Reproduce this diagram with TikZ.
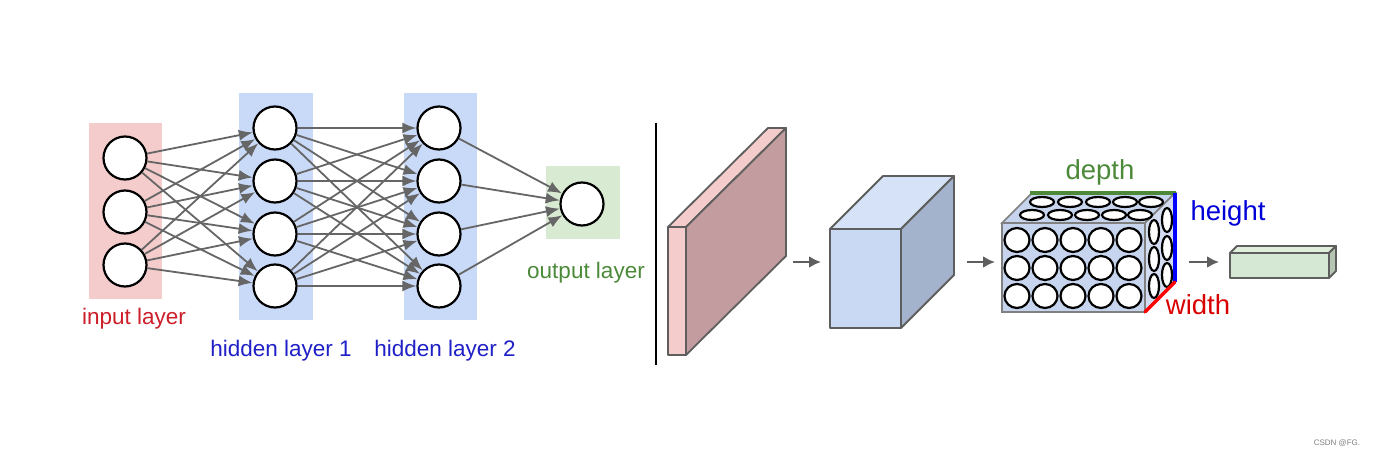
\documentclass[tikz,border=0pt]{standalone}
\usepackage{fontspec}
\setmainfont{Liberation Sans}
\usetikzlibrary{arrows.meta}
\definecolor{inpink}{HTML}{F4CCCC}
\definecolor{hidblue}{HTML}{C9DAF8}
\definecolor{outgreen}{HTML}{D9EAD3}
\definecolor{edgegray}{HTML}{666666}
\definecolor{boxline}{HTML}{5E5E5E}
\definecolor{redtxt}{HTML}{CC1F2A}
\definecolor{bluetxt}{HTML}{2020C8}
\definecolor{greentxt}{HTML}{4C8A3A}
\definecolor{slabside}{HTML}{C29C9E}
\definecolor{cubefront}{HTML}{C9D9F4}
\definecolor{cubetop}{HTML}{D6E2F7}
\definecolor{cubeside}{HTML}{A4B3CC}
\definecolor{volfront}{HTML}{C7D4EE}
\definecolor{volside}{HTML}{D3DCF0}
\definecolor{finfront}{HTML}{D5E8D4}
\definecolor{fintop}{HTML}{DFEDDB}
\definecolor{finside}{HTML}{B7C5B3}
\begin{document}
\begin{tikzpicture}[x=1pt,y=-1pt,
  neuron/.style={circle,draw=black,line width=2.2pt,fill=white,minimum size=43pt,inner sep=0pt},
  conn/.style={draw=edgegray,line width=1.8pt,-{Latex[length=14pt,width=11pt]}},
  flow/.style={draw=boxline,line width=2.4pt,-{Latex[length=12pt,width=12pt]}},
  lbl/.style={font=\fontsize{22.5}{26}\selectfont,inner sep=0pt},
  biglbl/.style={font=\fontsize{27.5}{31}\selectfont,inner sep=0pt},
  face/.style={draw=boxline,line width=1.8pt,line join=round},
  hole/.style={draw=black,line width=2.2pt,fill=white}]
\useasboundingbox[fill=white] (0,0) rectangle (1374,457);
% layer backgrounds
\fill[inpink] (89,123) rectangle (162,299);
\fill[hidblue] (239,93) rectangle (313,320);
\fill[hidblue] (404,93) rectangle (477,320);
\fill[outgreen] (546,166) rectangle (620,239);
% neurons
\node[neuron] (i1) at (125,158) {};
\node[neuron] (i2) at (125,212) {};
\node[neuron] (i3) at (125,265) {};
\foreach \k/\y in {1/128,2/181,3/234,4/286}{
  \node[neuron] (a\k) at (275,\y) {};
  \node[neuron] (b\k) at (439,\y) {};
}
\node[neuron] (o) at (582,204) {};
% connections
\foreach \s in {1,2,3}{\foreach \t in {1,2,3,4}{\draw[conn] (i\s) -- (a\t);}}
\foreach \s in {1,2,3,4}{\foreach \t in {1,2,3,4}{\draw[conn] (a\s) -- (b\t);}}
\foreach \s in {1,2,3,4}{\draw[conn] (b\s) -- (o);}
% labels
\node[lbl,text=redtxt] (lin) at (134,319) {input layer};
\node[lbl,text=bluetxt] (lh1) at (281,351) {hidden layer 1};
\node[lbl,text=bluetxt] (lh2) at (445,351) {hidden layer 2};
\node[lbl,text=greentxt] (lout) at (586,273) {output layer};
% divider
\coordinate (dtop) at (656,123);
\coordinate (dbot) at (656,365);
\draw[black,line width=1.5pt] (dtop) -- (dbot);
% pink slab
\filldraw[face,fill=inpink] (668,227) -- (768,128) -- (786,128) -- (686,227) -- cycle;
\filldraw[face,fill=slabside] (686,227) -- (786,128) -- (786,256) -- (686,355) -- cycle;
\filldraw[face,fill=inpink] (668,227) rectangle (686,355);
% blue cube
\filldraw[face,fill=cubetop] (830,229) -- (883,176) -- (954,176) -- (901,229) -- cycle;
\filldraw[face,fill=cubeside] (901,229) -- (954,176) -- (954,275) -- (901,328) -- cycle;
\filldraw[face,fill=cubefront] (830,229) rectangle (901,328);
% conv volume
\filldraw[draw=gray,line width=1.5pt,fill=volfront] (1002,223) -- (1032,193) -- (1175,193) -- (1145,223) -- cycle;
\filldraw[draw=gray,line width=1.5pt,fill=volside] (1145,223) -- (1175,193) -- (1175,282) -- (1145,312) -- cycle;
\filldraw[draw=gray,line width=1.5pt,fill=volfront] (1002,223) rectangle (1145,312);
\foreach \x in {1017,1045,1073,1101,1129}{
  \foreach \y in {240,268,296}{\draw[hole] (\x,\y) ellipse [x radius=12.5pt,y radius=12pt];}}
\foreach \x in {1042,1070,1098,1125,1151}{\draw[hole] (\x,202) ellipse [x radius=12pt,y radius=5pt];}
\foreach \x in {1032,1060,1087,1114,1140}{\draw[hole] (\x,215) ellipse [x radius=12pt,y radius=5pt];}
\foreach \y in {220,248,275}{\draw[hole] (1167,\y) ellipse [x radius=5pt,y radius=12pt];}
\foreach \y in {232,259,286}{\draw[hole] (1154,\y) ellipse [x radius=5pt,y radius=12pt];}
\draw[greentxt,line width=3.5pt] (1030,193) -- (1176,193);
\draw[blue,line width=3.5pt] (1175,193) -- (1175,282);
\draw[red,line width=3.5pt,line cap=round] (1175,282) -- (1145,312);
\node[biglbl,text=greentxt] (ldepth) at (1100,172) {depth};
\node[biglbl,text=blue!85!black] (lheight) at (1228,213) {height};
\node[biglbl,text=red!85!black] (lwidth) at (1198,305) {width};
% final box
\filldraw[face,fill=fintop] (1230,253) -- (1237,246) -- (1336,246) -- (1329,253) -- cycle;
\filldraw[face,fill=finside] (1329,253) -- (1336,246) -- (1336,271) -- (1329,278) -- cycle;
\filldraw[face,fill=finfront] (1230,253) rectangle (1329,278);
% flow arrows
\coordinate (f1s) at (793,262); \coordinate (f1e) at (821,262);
\coordinate (f2s) at (967,262); \coordinate (f2e) at (995,262);
\coordinate (f3s) at (1189,262); \coordinate (f3e) at (1219,262);
\draw[flow] (f1s) -- (f1e);
\draw[flow] (f2s) -- (f2e);
\draw[flow] (f3s) -- (f3e);
% credit
\node[font=\fontsize{8}{9}\selectfont,text=gray,inner sep=0pt] (credit) at (1337,443) {CSDN @FG.};
\end{tikzpicture}
\end{document}
